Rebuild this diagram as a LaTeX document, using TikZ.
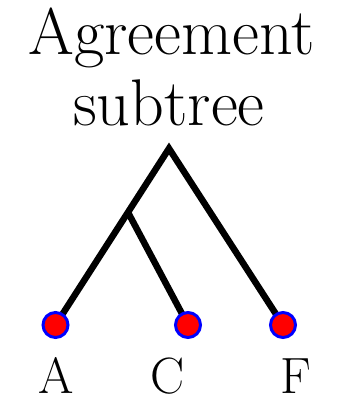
\documentclass[tikz,border=0pt]{standalone}
\begin{document}
\begin{tikzpicture}[x=1pt,y=-1pt,
  title/.style={anchor=base,inner sep=0pt,font=\fontsize{66}{66}\selectfont},
  lab/.style={anchor=base,inner sep=0pt,font=\fontsize{51}{51}\selectfont},
  branch/.style={line width=6.5pt,line join=miter},
  leaf/.style={circle,fill=red,draw=blue,line width=3pt,minimum size=25pt,inner sep=0pt}]
\useasboundingbox (0,0) rectangle (343,398);
\node[title] (t1) at (171.5,55) {Agreement};
\node[title] (t2) at (169,126) {subtree};
\coordinate (root) at (169,148.5);
\coordinate (int) at (127.8,212);
\coordinate (pA) at (55.5,325);
\coordinate (pC) at (188,325);
\coordinate (pF) at (283,325);
\draw[branch] (pA) -- (root) -- (pF);
\draw[branch] (int) -- (pC);
\node[leaf] (A) at (pA) {};
\node[leaf] (C) at (pC) {};
\node[leaf] (F) at (pF) {};
\node[lab] (lA) at (56,393) {A};
\node[lab] (lC) at (168,393) {C};
\node[lab] (lF) at (296,393) {F};
\end{tikzpicture}
\end{document}
